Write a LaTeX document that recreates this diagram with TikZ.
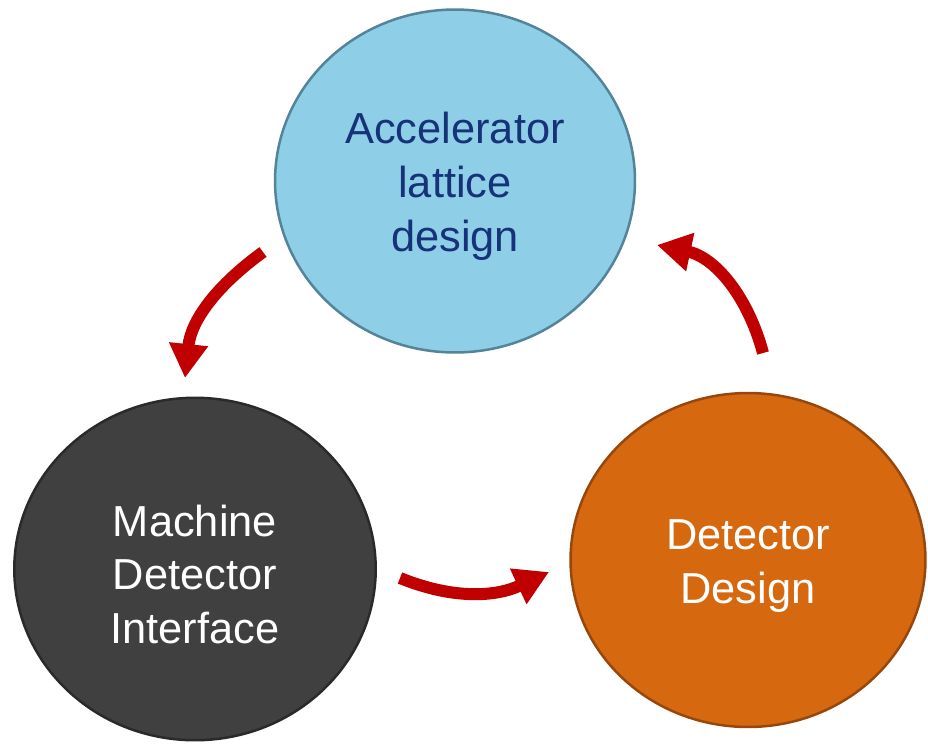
\documentclass[tikz,border=0pt]{standalone}
\usepackage{fontspec}
\setmainfont{Liberation Sans}
\usetikzlibrary{shapes.geometric,arrows.meta}
\definecolor{latticeblue}{RGB}{142,206,230}
\definecolor{latticeedge}{RGB}{84,132,152}
\definecolor{latticetext}{RGB}{22,50,120}
\definecolor{mdigray}{RGB}{64,64,64}
\definecolor{mdiedge}{RGB}{42,42,42}
\definecolor{detorange}{RGB}{214,104,16}
\definecolor{detedge}{RGB}{150,72,12}
\definecolor{flowred}{RGB}{192,0,0}
\newcommand{\phasestrut}{\rule{0pt}{24pt}}
\tikzstyle{phase}=[ellipse, draw, line width=0.05cm, align=center, inner sep=0pt, font=\fontsize{24.7}{30.5}\selectfont]
\tikzstyle{cyclearrow}=[flowred, line width=0.24cm, -{Triangle[length=0.68cm,width=0.74cm]}]

\begin{document}
\begin{tikzpicture}[x=0.02cm,y=0.02cm]
   \useasboundingbox (0,0) rectangle (928,-744);
   \draw (455,-181) node[phase, fill=latticeblue, draw=latticeedge, text=latticetext, minimum width=7.2cm, minimum height=6.86cm] (lattice) {\phasestrut Accelerator\\lattice\\design};
   \draw (195,-569) node[phase, fill=mdigray, draw=mdiedge, text=white, minimum width=7.23cm, minimum height=6.85cm] (mdi) {\phasestrut Machine\\Detector\\Interface};
   \draw (748,-560) node[phase, fill=detorange, draw=detedge, text=white, minimum width=7.1cm, minimum height=6.68cm] (detector) {\phasestrut Detector\\Design};

   \coordinate (lattice out) at (263,-252);
   \coordinate (mdi in) at (185,-378);
   \coordinate (mdi out) at (400,-578);
   \coordinate (detector in) at (549,-572);
   \coordinate (detector out) at (763,-353);
   \coordinate (lattice in) at (657,-245);

   \draw[cyclearrow] (lattice out) to[out=216,in=84] (mdi in);
   \draw[cyclearrow] (mdi out) to[out=-22,in=205] (detector in);
   \draw[cyclearrow] (detector out) to[out=105,in=-12] (lattice in);
\end{tikzpicture}
\end{document}
